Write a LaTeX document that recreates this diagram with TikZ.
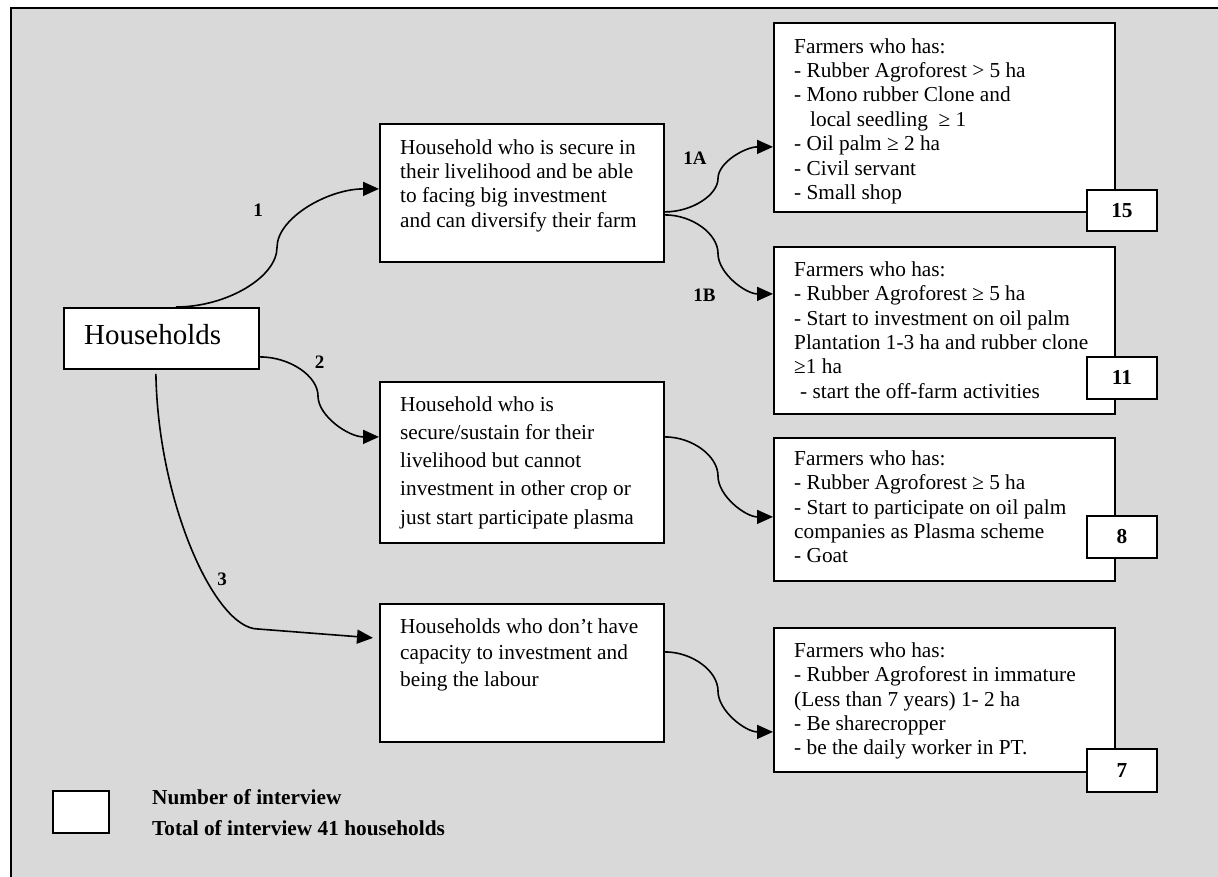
\documentclass[tikz,border=0pt]{standalone}
\usepackage{fontspec}
\setmainfont{Liberation Serif}
\usetikzlibrary{arrows.meta}
\definecolor{panel}{RGB}{217,217,217}
% fixed height for the first line of every text block
\newcommand{\lnstrut}{\rule{0pt}{16pt}}
\begin{document}
\begin{tikzpicture}[x=1pt,y=-1pt,
  box/.style={draw=black, fill=white, line width=1.8pt, rectangle, inner sep=0pt, anchor=north west},
  numbox/.style={box, minimum width=70pt, font=\fontsize{21.3}{24}\selectfont\bfseries},
  txt/.style={anchor=north west, inner sep=0pt, align=left, font=\fontsize{21.3}{24.4}\selectfont},
  lbl/.style={inner sep=0pt, font=\fontsize{19}{22}\selectfont\bfseries},
  conn/.style={draw=black, line width=1.6pt, -{Triangle[length=16pt,width=14pt]}}
]
\useasboundingbox (0,0) rectangle (1218,877);
\clip (0,0) rectangle (1218,877);

% grey panel (extends past the right and bottom page edges)
\draw[fill=panel, line width=2pt] (11,8) rectangle (1240,900);

% main boxes
\node[box, minimum width=195pt, minimum height=61pt]  (hh)  at (63,307)  {};
\node[box, minimum width=284pt, minimum height=138pt] (h1)  at (379,123) {};
\node[box, minimum width=284pt, minimum height=161pt] (h2)  at (379,381) {};
\node[box, minimum width=284pt, minimum height=138pt] (h3)  at (379,603) {};
\node[box, minimum width=341pt, minimum height=189pt] (b1a) at (773,22)  {};
\node[box, minimum width=341pt, minimum height=167pt] (b1b) at (773,246) {};
\node[box, minimum width=341pt, minimum height=143pt] (b8)  at (773,437) {};
\node[box, minimum width=341pt, minimum height=144pt] (b7)  at (773,627) {};

% texts
\node[anchor=base west, inner sep=0pt, font=\fontsize{29}{32}\selectfont] (thh) at (84,344) {Households};

\node[txt] (th1) at (400,138) {\lnstrut Household who is secure in\\their livelihood and be able\\to facing big investment\\and can diversify their farm};
\node[txt, font=\fontsize{21.3}{28.2}\selectfont] (th2) at (400,395) {\lnstrut Household who is\\secure/sustain for their\\livelihood but cannot\\investment in other crop or\\just start participate plasma};
\node[txt, font=\fontsize{21.3}{26.7}\selectfont] (th3) at (400,617) {\lnstrut Households who don’t have\\capacity to investment and\\being the labour};

\node[txt] (tb1a) at (794,37) {\lnstrut Farmers who has:\\- Rubber Agroforest > 5 ha\\- Mono rubber Clone and\\\hspace*{16pt}local seedling\ \ ≥ 1\\- Oil palm ≥ 2 ha\\- Civil servant\\- Small shop};
\node[txt] (tb1b) at (794,260) {\lnstrut Farmers who has:\\- Rubber Agroforest ≥ 5 ha\\- Start to investment on oil palm\\Plantation 1-3 ha and rubber clone\\≥1 ha\\\hspace*{6pt}- start the off-farm activities};
\node[txt] (tb8) at (794,449) {\lnstrut Farmers who has:\\- Rubber Agroforest ≥ 5 ha\\- Start to participate on oil palm\\companies as Plasma scheme\\- Goat};
\node[txt] (tb7) at (794,641) {\lnstrut Farmers who has:\\- Rubber Agroforest in immature\\(Less than 7 years) 1- 2 ha\\- Be sharecropper\\- be the daily worker in PT.};

% interview counts
\node[numbox, minimum height=41pt] (n15) at (1086,189) {15};
\node[numbox, minimum height=42pt] (n11) at (1086,356) {11};
\node[numbox, minimum height=42pt] (n8)  at (1086,515) {8};
\node[numbox, minimum height=43pt] (n7)  at (1086,748) {7};

% bend points of the connectors
\coordinate (m1)  at (277,247.5);
\coordinate (m1a) at (718,178.5);
\coordinate (m1b) at (718,253.5);
\coordinate (m2)  at (318,396);
\coordinate (m2b) at (718,476);
\coordinate (m3b) at (718,691);
\coordinate (k3)  at (258,629);

% connectors
\draw[conn] ([xshift=14.5pt]hh.north) .. controls +(51,0) and +(0,29.5) .. (m1)
  .. controls +(0,-29.5) and +(-51,0) .. ([yshift=4pt]h1.west);
\draw[conn] ([yshift=-19pt]h1.east) .. controls +(27.5,0) and +(0,16.25) .. (m1a)
  .. controls +(0,-16.25) and +(-27.5,0) .. ([yshift=-29.5pt]b1a.west);
\draw[conn] ([yshift=-22pt]h1.east) .. controls +(27.5,0) and +(0,-19.75) .. (m1b)
  .. controls +(0,19.75) and +(-27.5,0) .. ([yshift=36.5pt]b1b.west);
\draw[conn] ([yshift=-18.5pt]hh.east) .. controls +(30,0) and +(0,-20) .. (m2)
  .. controls +(0,20) and +(-30.5,0) .. ([yshift=25.5pt]h2.west);
\draw[conn] ([yshift=25.5pt]h2.east) .. controls +(27.5,0) and +(0,-20) .. (m2b)
  .. controls +(0,20) and +(-27.5,0) .. ([yshift=-7.5pt]b8.west);
\draw[conn] ([yshift=21pt]h3.east) .. controls +(27.5,0) and +(0,-20) .. (m3b)
  .. controls +(0,20) and +(-27.5,0) .. ([yshift=-32pt]b7.west);
\draw[conn] ([xshift=-5.5pt,yshift=-4pt]hh.south) .. controls +(2,128) and +(-43,0) .. (k3)
  -- ([xshift=-6pt,yshift=35pt]h3.west);

% branch labels
\node[lbl] (l1)  at (258,210)   {1};
\node[lbl] (l1a) at (695,158.5) {1A};
\node[lbl] (l1b) at (704.5,295.5) {1B};
\node[lbl] (l2)  at (319.5,362) {2};
\node[lbl] (l3)  at (222,579)   {3};

% legend
\node[box, minimum width=56pt, minimum height=42pt] (key) at (52,790) {};
\node[txt, font=\fontsize{21.3}{31}\selectfont\bfseries] (tkey) at (152,788) {\lnstrut Number of interview\\Total of interview 41 households};
\end{tikzpicture}
\end{document}
